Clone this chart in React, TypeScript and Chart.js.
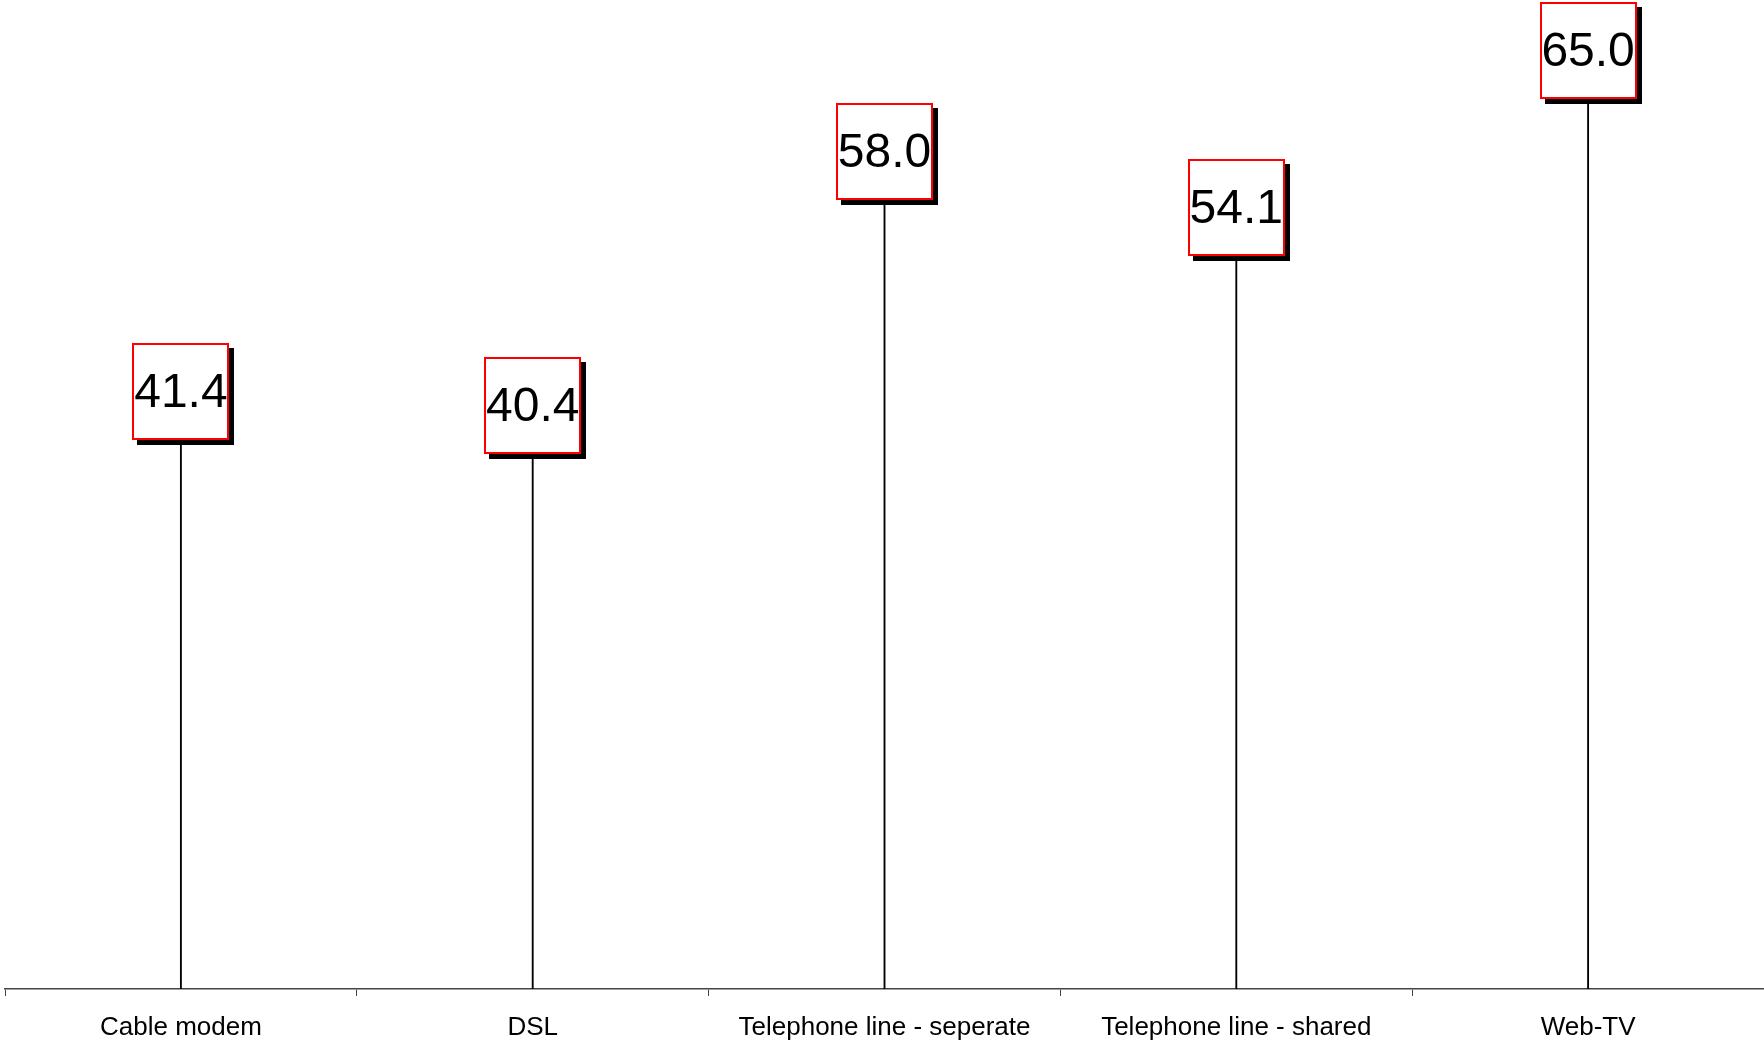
import React, { useEffect, useRef } from "react";
import { Chart, registerables } from "chart.js";

Chart.register(...registerables);

const categories = [
  "Cable modem",
  "DSL",
  "Telephone line - seperate",
  "Telephone line - shared",
  "Web-TV",
];
const values = [41.4, 40.4, 58.0, 54.1, 65.0];
const yMin = 0;
const yMax = 68.5;

const labelBoxPlugin = {
  id: "labelBoxes",
  afterDatasetsDraw(chart: any) {
    const ctx = chart.ctx;
    const meta = chart.getDatasetMeta(0);
    const yScale = chart.scales.y;
    const size = 97;
    const shadow = 5;
    ctx.save();
    ctx.font = "48px 'Liberation Sans', Arial, sans-serif";
    ctx.textAlign = "center";
    ctx.textBaseline = "middle";
    meta.data.forEach((el: any, i: number) => {
      const cx = el.x;
      const cy = yScale.getPixelForValue(values[i]);
      const x0 = Math.round(cx - size / 2);
      const y0 = Math.round(cy - size / 2);
      ctx.fillStyle = "#000000";
      ctx.fillRect(x0 + shadow, y0 + shadow, size, size);
      ctx.fillStyle = "#ffffff";
      ctx.fillRect(x0, y0, size, size);
      ctx.strokeStyle = "#ff0000";
      ctx.lineWidth = 2;
      ctx.strokeRect(x0 + 1, y0 + 1, size - 2, size - 2);
      ctx.fillStyle = "#000000";
      ctx.fillText(values[i].toFixed(1), cx, cy + 2);
    });
    ctx.restore();
  },
};

export default function App() {
  const ref = useRef<HTMLCanvasElement | null>(null);
  useEffect(() => {
    if (!ref.current) return;
    const chart = new Chart(ref.current, {
      type: "bar",
      data: {
        labels: categories,
        datasets: [
          {
            data: values,
            backgroundColor: "#000000",
            barThickness: 1.2,
          },
        ],
      },
      options: {
        responsive: false,
        animation: false,
        layout: { padding: { left: 5, right: 0, top: 0, bottom: 0 } },
        plugins: {
          legend: { display: false },
          tooltip: { enabled: false },
        },
        scales: {
          x: {
            offset: true,
            afterFit: (scale: any) => {
              scale.height = 51;
            },
            grid: {
              offset: true,
              drawOnChartArea: false,
              drawTicks: true,
              tickLength: 7,
              color: "#444444",
              lineWidth: 1,
            },
            border: { display: true, color: "#444444", width: 1.5 },
            ticks: {
              color: "#000000",
              padding: 16,
              maxRotation: 0,
              autoSkip: false,
              font: { family: "'Liberation Sans', Arial, sans-serif", size: 26 },
            },
          },
          y: {
            display: false,
            min: yMin,
            max: yMax,
          },
        },
      },
      plugins: [labelBoxPlugin],
    });
    return () => chart.destroy();
  }, []);
  return (
    <div style={{ position: "fixed", left: 0, top: 0, width: 1764, height: 1040, background: "#fff" }}>
      <canvas ref={ref} width={1764} height={1040} style={{ display: "block" }} />
    </div>
  );
}
